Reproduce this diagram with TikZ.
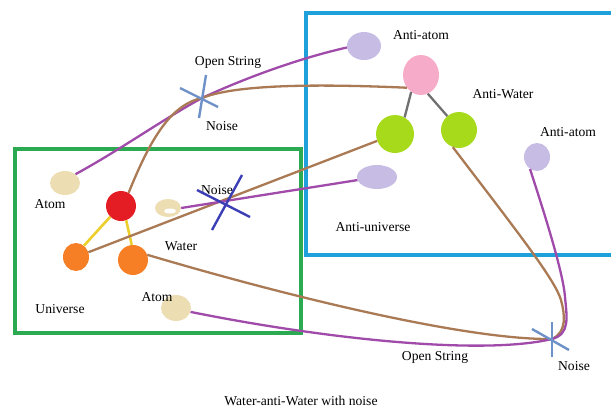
\documentclass[tikz,border=0pt]{standalone}
\usepackage{fontspec}
\setmainfont{Liberation Serif}
\usetikzlibrary{shapes.geometric}
\definecolor{cPurple}{RGB}{160,75,170}
\definecolor{cBrown}{RGB}{170,122,85}
\definecolor{cLav}{RGB}{198,188,228}
\definecolor{cBeige}{RGB}{236,222,178}
\definecolor{cPink}{RGB}{246,172,200}
\definecolor{cLime}{RGB}{168,218,28}
\definecolor{cRed}{RGB}{228,28,36}
\definecolor{cOrange}{RGB}{246,126,36}
\definecolor{cYellow}{RGB}{236,206,44}
\definecolor{cGray}{RGB}{112,112,112}
\definecolor{cSteel}{RGB}{110,145,200}
\definecolor{cNavy}{RGB}{60,62,182}
\definecolor{cGreenBox}{RGB}{44,170,82}
\definecolor{cBlueBox}{RGB}{30,160,218}
\tikzset{
  blob/.style={ellipse, draw=none, inner sep=0pt},
  lbl/.style={font=\fontsize{13.6}{15}\selectfont, inner sep=0pt, text=black},
  pline/.style={draw=cPurple, line width=2.3pt},
  bline/.style={draw=cBrown, line width=2.3pt},
  yline/.style={draw=cYellow, line width=2.6pt},
  gline/.style={draw=cGray, line width=2.3pt},
  crossA/.style={draw=cSteel, line width=2.4pt},
  crossB/.style={draw=cNavy, line width=2.4pt},
}
\begin{document}
\begin{tikzpicture}[x=1pt,y=-1pt]
\useasboundingbox (0,0) rectangle (611,410);
\clip (0,0) rectangle (611,410);
% boxes
\draw[draw=cGreenBox, line width=4pt] (15,149) rectangle (301,333);
\draw[draw=cBlueBox, line width=4pt] (620,13) -- (306,13) -- (306,255) -- (620,255);
% nodes
\node[blob, fill=cLav, minimum width=34pt, minimum height=28pt] (aa1) at (364,46) {};
\node[blob, fill=cPink, minimum width=36pt, minimum height=40pt] (pink) at (421,75) {};
\node[blob, fill=cLime, minimum width=38pt, minimum height=38pt] (grL) at (395,134) {};
\node[blob, fill=cLime, minimum width=36pt, minimum height=36pt] (grR) at (459,130) {};
\node[blob, fill=cLav, minimum width=26pt, minimum height=28pt] (aa2) at (537,157) {};
\node[blob, fill=cLav, minimum width=40pt, minimum height=24pt] (auni) at (377,177) {};
\node[blob, fill=cBeige, minimum width=30pt, minimum height=24pt] (atom1) at (65,183) {};
\node[blob, fill=cRed, minimum width=30pt, minimum height=30pt] (red) at (121,206) {};
\node[blob, fill=cBeige, minimum width=26pt, minimum height=18pt] (atom2) at (168,208) {};
\node[blob, fill=white, minimum width=12pt, minimum height=5pt] (atom2w) at (170,211) {};
\node[blob, fill=cOrange, minimum width=26pt, minimum height=28pt] (orL) at (76,257) {};
\node[blob, fill=cOrange, minimum width=30pt, minimum height=30pt] (orR) at (133,260) {};
\node[blob, fill=cBeige, minimum width=30pt, minimum height=26pt] (atom3) at (176,308) {};
% noise points and bends
\coordinate (n1) at (202,98);
\coordinate (n2) at (226,202);
\coordinate (n3) at (552,339);
\coordinate (bk1) at (561,300);
\coordinate (bk2) at (565,297);
% connectors
\path[gline] (pink.240) -- (grL.60);
\path[gline] (pink.290) -- (grR.130);
\path[yline] (red.225) -- (orL.55);
\path[yline] (red.290) -- (orR.95);
\path[pline] (atom1.40) .. controls (120,150) and (165,118) .. (n1) .. controls (245,78) and (300,58) .. (aa1.185);
\path[bline] (red.60) .. controls (150,140) and (170,105) .. (n1) .. controls (232,86) and (300,83) .. (pink.222);
\path[bline] (orL) -- (grL);
\path[pline] (atom2.east) -- (auni);
\path[bline] (orR.20) .. controls (300,300) and (470,340) .. (n3) .. controls (567,332) and (565,315) .. (bk1) .. controls (555,280) and (520,235) .. (grR.250);
\path[pline] (atom3.-15) .. controls (320,338) and (480,356) .. (n3) .. controls (570,334) and (567,318) .. (bk2) .. controls (563,270) and (540,200) .. (aa2.240);
% labels
\node[lbl] (lOS1) at (228,62) {Open String};
\node[lbl] (lN1) at (222,126) {Noise};
\node[lbl] (lAA1) at (421,35) {Anti-atom};
\node[lbl] (lAW) at (503,94) {Anti-Water};
\node[lbl] (lAA2) at (568,132) {Anti-atom};
\node[lbl] (lAU) at (373,227) {Anti-universe};
\node[lbl] (lA1) at (50,204) {Atom};
\node[lbl] (lN2) at (217,190) {Noise};
\node[lbl] (lW) at (181,246) {Water};
\node[lbl] (lA3) at (157,297) {Atom};
\node[lbl] (lU) at (60,309) {Universe};
\node[lbl] (lOS2) at (435,357) {Open String};
\node[lbl] (lN3) at (574,366) {Noise};
\node[lbl] (cap) at (301,401) {Water-anti-Water with noise};
% noise crosses
\draw[crossA] ([shift={(4,-23)}]n1) -- ([shift={(-3,20)}]n1);
\draw[crossA] ([shift={(-22,-10)}]n1) -- ([shift={(16,9)}]n1);
\draw[crossB] ([shift={(16,-27)}]n2) -- ([shift={(-14,28)}]n2);
\draw[crossB] ([shift={(-29,-12)}]n2) -- ([shift={(24,15)}]n2);
\draw[crossA] ([shift={(0,-17)}]n3) -- ([shift={(0,18)}]n3);
\draw[crossA] ([shift={(-20,-10)}]n3) -- ([shift={(17,11)}]n3);
\end{tikzpicture}
\end{document}
